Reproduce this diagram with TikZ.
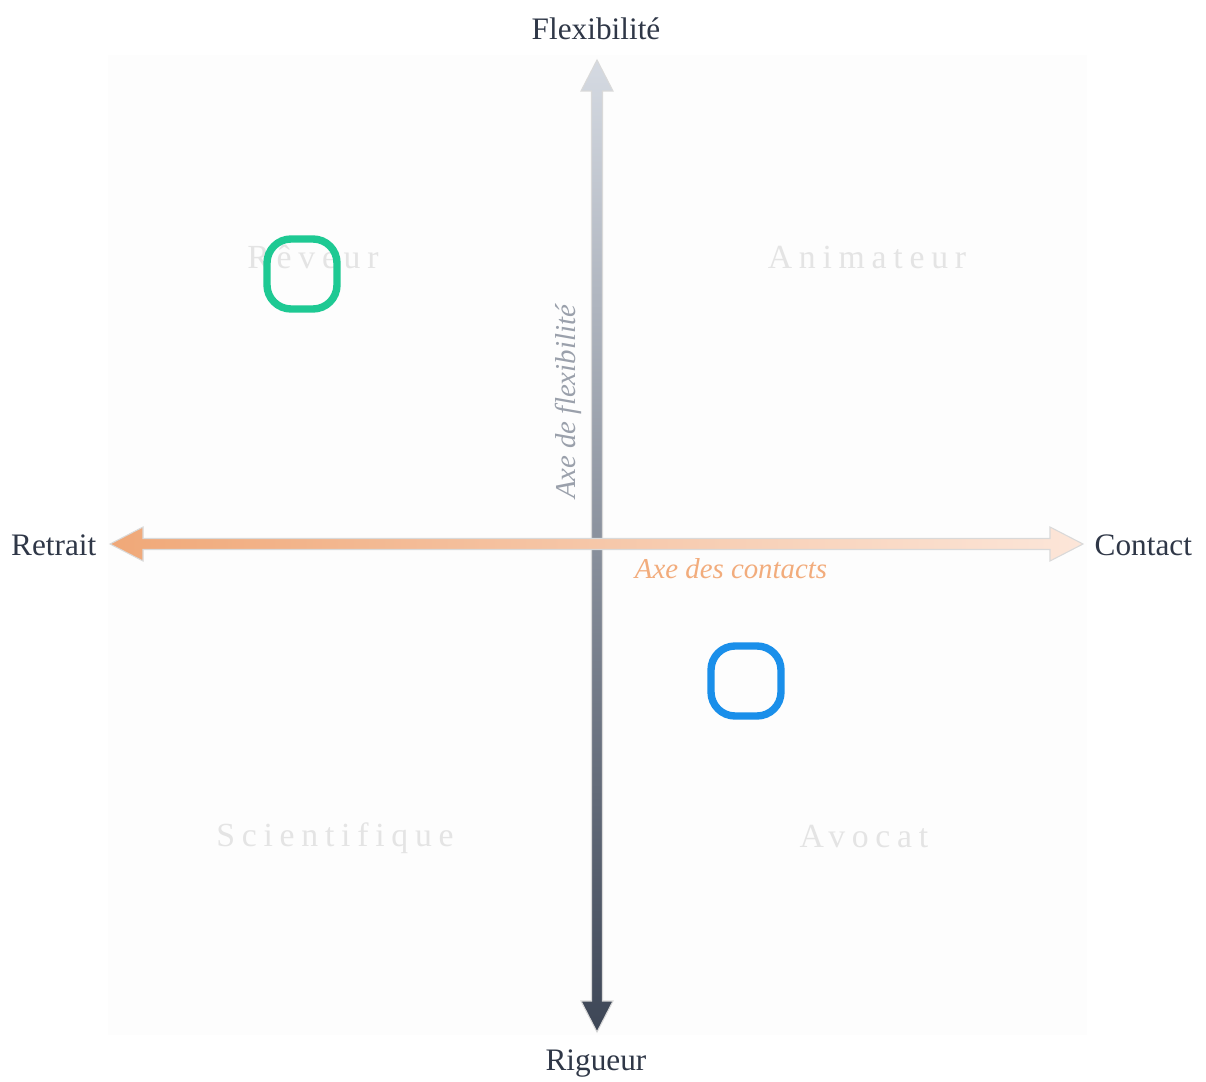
\documentclass[tikz,border=0pt]{standalone}
\usepackage{fontspec}
\setmainfont{Liberation Serif}
\newfontfamily\spacedfont[LetterSpace=20]{Liberation Serif}
\usetikzlibrary{calc}
\definecolor{inkdark}{HTML}{2F3747}
\definecolor{quadgray}{HTML}{E4E4E4}
\definecolor{bgtile}{HTML}{FDFDFD}
\definecolor{flextop}{HTML}{D5DAE2}
\definecolor{flexmid}{HTML}{A9AFB9}
\definecolor{flexbot}{HTML}{3D4656}
\definecolor{contleft}{HTML}{F0A878}
\definecolor{contright}{HTML}{FCE6D9}
\definecolor{flexlabel}{HTML}{9AA0AB}
\definecolor{contlabel}{HTML}{F2AC7C}
\definecolor{markgreen}{HTML}{1EC993}
\definecolor{markblue}{HTML}{1A8FEA}
\tikzset{
  pole/.style={text=inkdark, font=\fontsize{8.9}{10}\selectfont, inner sep=0pt},
  quadrant/.style={text=quadgray, font=\spacedfont\fontsize{9.6}{11}\selectfont, inner sep=0pt},
  axisname/.style={font=\itshape\fontsize{8.2}{10}\selectfont, inner sep=0pt},
  marker/.style={draw=#1, line width=2.1pt, rounded corners=2.4mm, minimum size=7mm, inner sep=0pt},
}
\begin{document}
\begin{tikzpicture}[x=0.1mm, y=-0.1mm]
    \useasboundingbox (0,0) rectangle (1206,1082);
    \fill[bgtile] (108,55) rectangle (1087,1035);
    \coordinate (ytop) at (597,60);
    \coordinate (ybot) at (597,1032);
    \coordinate (xl) at (110,544);
    \coordinate (xr) at (1083,544);
    \shadedraw[top color=flextop, middle color=flexmid, bottom color=flexbot, draw=black!15, line width=0.3pt]
        (ytop) -- ++(16,31) -- ++(-10.5,0) -- ($(ybot)+(5.5,-31)$) -- ++(10.5,0) -- (ybot)
        -- ++(-16,-31) -- ++(10.5,0) -- ($(ytop)+(-5.5,31)$) -- ++(-10.5,0) -- cycle;
    \shadedraw[left color=contleft, right color=contright, draw=black!15, line width=0.3pt]
        (xl) -- ++(33,-17) -- ++(0,11.5) -- ($(xr)+(-33,-5.5)$) -- ++(0,-11.5) -- (xr)
        -- ++(-33,17) -- ++(0,-11.5) -- ($(xl)+(33,5.5)$) -- ++(0,11.5) -- cycle;
    \node[pole] (flex) at (596,29) {Flexibilité};
    \node[pole] (rig) at (596,1064) {Rigueur};
    \node[pole, anchor=east] (ret) at (97,545) {Retrait};
    \node[pole, anchor=west] (con) at (1094,545) {Contact};
    \node[axisname, text=flexlabel, rotate=90] (flexaxis) at (568,402) {Axe de flexibilité};
    \node[axisname, text=contlabel] (contaxis) at (731,569) {Axe des contacts};
    \node[quadrant] (reveur) at (313,257) {Rêveur};
    \node[quadrant] (anim) at (867,257) {Animateur};
    \node[quadrant] (scien) at (335,838) {Scientifique};
    \node[quadrant] (avocat) at (864,837) {Avocat};
    \node[marker=markgreen] (pgreen) at (302,274) {};
    \node[marker=markblue] (pblue) at (746,681) {};
\end{tikzpicture}
\end{document}
